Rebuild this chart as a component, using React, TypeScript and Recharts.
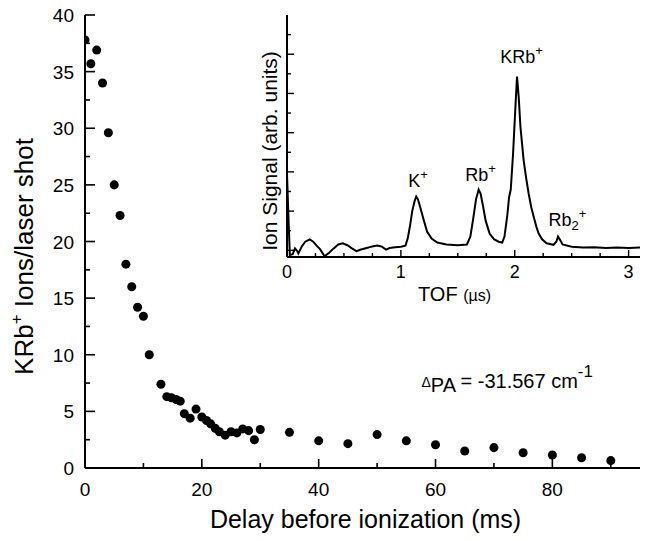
import React from 'react';
import { ScatterChart, Scatter, LineChart, Line, XAxis, YAxis, ZAxis, ReferenceDot } from 'recharts';

const FONT = '"Liberation Sans", Arial, Helvetica, sans-serif';

// Main plot: KRb+ ions per laser shot vs delay before ionization (ms)
const delayMs = [0, 1, 2, 3, 4, 5, 6, 7, 8, 9, 10, 11, 13, 14, 14.8, 15.6, 16.3, 17, 18, 19, 20, 20.8, 21.5, 22.3, 23, 24, 25, 26, 27, 28, 29, 30, 35, 40, 45, 50, 55, 60, 65, 70, 75, 80, 85, 90];
const ionsPerShot = [37.8, 35.7, 36.9, 34.0, 29.6, 25.0, 22.3, 18.0, 16.0, 14.2, 13.4, 10.0, 7.4, 6.3, 6.2, 6.05, 5.9, 4.8, 4.4, 5.2, 4.5, 4.2, 3.9, 3.5, 3.2, 2.9, 3.2, 3.1, 3.45, 3.3, 2.5, 3.4, 3.15, 2.4, 2.15, 2.95, 2.4, 2.05, 1.5, 1.8, 1.35, 1.15, 0.9, 0.65];

// Inset: TOF spectrum
const tofUs = [0, 0.012, 0.025, 0.05, 0.07, 0.09, 0.1, 0.13, 0.16, 0.2, 0.23, 0.26, 0.29, 0.33, 0.37, 0.41, 0.45, 0.49, 0.53, 0.57, 0.61, 0.65, 0.7, 0.75, 0.79, 0.83, 0.87, 0.9, 0.95, 1.0, 1.04, 1.06, 1.08, 1.1, 1.12, 1.135, 1.15, 1.17, 1.2, 1.23, 1.27, 1.32, 1.4, 1.5, 1.58, 1.61, 1.635, 1.66, 1.683, 1.7, 1.72, 1.745, 1.78, 1.82, 1.86, 1.89, 1.91, 1.935, 1.95, 1.965, 1.985, 2.005, 2.02, 2.035, 2.05, 2.078, 2.1, 2.122, 2.145, 2.166, 2.19, 2.21, 2.24, 2.28, 2.34, 2.365, 2.38, 2.395, 2.42, 2.5, 2.6, 2.7, 2.8, 2.9, 3.0, 3.1];
const ionSignal = [1.95, 0.9, -0.12, -0.1, 0.05, -0.02, -0.08, 0.1, 0.22, 0.28, 0.22, 0.12, 0.03, -0.15, -0.06, 0.05, 0.15, 0.18, 0.13, 0.05, -0.02, 0.02, 0.06, 0.1, 0.12, 0.1, 0.02, 0.06, 0.08, 0.09, 0.12, 0.3, 0.62, 1.0, 1.25, 1.37, 1.3, 1.1, 0.78, 0.48, 0.3, 0.2, 0.15, 0.13, 0.15, 0.35, 0.8, 1.3, 1.55, 1.45, 1.15, 0.75, 0.42, 0.28, 0.22, 0.2, 0.35, 0.9, 1.35, 1.55, 2.45, 3.6, 4.43, 3.9, 3.15, 2.3, 1.85, 1.45, 1.1, 0.86, 0.6, 0.43, 0.28, 0.18, 0.14, 0.22, 0.35, 0.28, 0.15, 0.09, 0.07, 0.08, 0.06, 0.07, 0.06, 0.07];

const mainXTicks = [0, 10, 20, 30, 40, 50, 60, 70, 80, 90];
const mainYTicks = [0, 2.5, 5, 7.5, 10, 12.5, 15, 17.5, 20, 22.5, 25, 27.5, 30, 32.5, 35, 37.5, 40];
const insetXTicks = [0, 0.25, 0.5, 0.75, 1, 1.25, 1.5, 1.75, 2, 2.25, 2.5, 2.75, 3];
const insetYTicks = [0, 0.5, 1, 1.5, 2, 2.5, 3, 3.5, 4, 4.5, 5, 5.5];

const mainData = delayMs.map((x, i) => ({ x, y: ionsPerShot[i] }));
const insetData = tofUs.map((t, i) => ({ t, v: ionSignal[i] }));

const AX = { stroke: '#000', strokeWidth: 2 };

const MainXTick = (p: any) => {
  const { x, y, payload } = p;
  const major = payload.value % 20 === 0;
  return (
    <g>
      <line x1={x} x2={x} y1={y} y2={y - (major ? 9 : 5)} stroke="#000" strokeWidth={1.6} />
      {major && (
        <text x={x} y={y + 28} textAnchor="middle" fontSize={19} fontFamily={FONT} fill="#000">{payload.value}</text>
      )}
    </g>
  );
};

const MainYTick = (p: any) => {
  const { x, y, payload } = p;
  const major = payload.value % 5 === 0;
  return (
    <g>
      <line x1={x} x2={x + (major ? 10 : 5)} y1={y} y2={y} stroke="#000" strokeWidth={1.6} />
      {major && (
        <text x={x - 11} y={y + 7} textAnchor="end" fontSize={19} fontFamily={FONT} fill="#000">{payload.value}</text>
      )}
    </g>
  );
};

const InsetXTick = (p: any) => {
  const { x, y, payload } = p;
  const major = Number.isInteger(payload.value);
  return (
    <g>
      <line x1={x} x2={x} y1={y} y2={y - (major ? 7 : 4)} stroke="#000" strokeWidth={1.4} />
      {major && (
        <text x={x} y={y + 21} textAnchor="middle" fontSize={18} fontFamily={FONT} fill="#000">{payload.value}</text>
      )}
    </g>
  );
};

const InsetYTick = (p: any) => {
  const { x, y, payload } = p;
  const major = Number.isInteger(payload.value);
  return <line x1={x} x2={x + (major ? 7 : 4)} y1={y} y2={y} stroke="#000" strokeWidth={1.4} />;
};

const MainXTitle = (p: any) => {
  const vb = p.viewBox || { x: 85, y: 468, width: 555, height: 70 };
  return (
    <text x={vb.x + vb.width / 2 + 3} y={vb.y + 60} textAnchor="middle" fontSize={25} fontFamily={FONT} fill="#000">
      Delay before ionization (ms)
    </text>
  );
};

const MainYTitle = (p: any) => {
  const vb = p.viewBox || { x: 5, y: 15, width: 80, height: 453 };
  const cx = vb.x + 28;
  const cy = vb.y + vb.height / 2 + 15;
  return (
    <text transform={`translate(${cx},${cy}) rotate(-90)`} textAnchor="middle" fontSize={26} fontFamily={FONT} fill="#000">
      KRb<tspan fontSize={17} dy={-11}>+</tspan><tspan dy={11}> Ions/laser shot</tspan>
    </text>
  );
};

const InsetXTitle = (p: any) => {
  const vb = p.viewBox || { x: 287, y: 257, width: 353, height: 50 };
  return (
    <text x={vb.x + 131} y={vb.y + 44} fontSize={20} fontFamily={FONT} fill="#000">
      TOF <tspan fontSize={16}>(µs)</tspan>
    </text>
  );
};

const InsetYTitle = (p: any) => {
  const vb = p.viewBox || { x: 257, y: 15, width: 30, height: 242 };
  const cx = vb.x + 20;
  const cy = vb.y + vb.height / 2 + 15;
  return (
    <text transform={`translate(${cx},${cy}) rotate(-90)`} textAnchor="middle" fontSize={21} fontFamily={FONT} fill="#000">
      Ion Signal (arb. units)
    </text>
  );
};

const IonLabel = (name: string, sub?: string) => (p: any) => (
  <text x={p.cx} y={p.cy} fontSize={18} fontFamily={FONT} fill="#000">
    {name}
    {sub ? (
      <>
        <tspan fontSize={13} dy={4}>{sub}</tspan>
        <tspan fontSize={13} dy={-12}>+</tspan>
      </>
    ) : (
      <tspan fontSize={13} dy={-8}>+</tspan>
    )}
  </text>
);

const DeltaLabel = (p: any) => (
  <text x={p.cx} y={p.cy} fontSize={20} fontFamily={FONT} fill="#000">
    <tspan fontSize={14} dy={-1}>Δ</tspan>
    <tspan fontSize={20} dy={5}>PA</tspan>
    <tspan dy={-4}> = -31.567 cm</tspan>
    <tspan fontSize={17} dy={-11}>-1</tspan>
  </text>
);

export default function App() {
  return (
    <div style={{ position: 'absolute', left: 0, top: 0, width: 646, height: 541, background: '#fff', fontFamily: FONT }}>
      <div style={{ position: 'absolute', left: 0, top: 0 }}>
        <ScatterChart width={646} height={541} margin={{ top: 15, right: 6, left: 5, bottom: 3 }}>
          <XAxis
            dataKey="x"
            type="number"
            domain={[0, 95]}
            ticks={mainXTicks}
            interval={0}
            allowDataOverflow
            height={70}
            tickSize={0}
            tickMargin={0}
            tick={MainXTick}
            tickLine={false}
            axisLine={AX}
            label={MainXTitle}
          />
          <XAxis xAxisId="top" orientation="top" type="number" domain={[0, 95]} height={0} tick={false} tickLine={false} axisLine={AX} />
          <YAxis
            dataKey="y"
            type="number"
            domain={[0, 40]}
            ticks={mainYTicks}
            interval={0}
            allowDataOverflow
            width={80}
            tickSize={0}
            tickMargin={0}
            tick={MainYTick}
            tickLine={false}
            axisLine={AX}
            label={MainYTitle}
          />
          <YAxis yAxisId="right" orientation="right" type="number" domain={[0, 40]} width={0} tick={false} tickLine={false} axisLine={AX} />
          <ZAxis range={[85, 85]} />
          <Scatter data={mainData} fill="#000" stroke="none" isAnimationActive={false} />
          <ReferenceDot x={57.6} y={7.06} r={0} shape={DeltaLabel} />
        </ScatterChart>
      </div>
      <div style={{ position: 'absolute', left: 0, top: 0 }}>
        <LineChart width={646} height={320} data={insetData} margin={{ top: 15, right: 6, left: 257, bottom: 13 }}>
          <XAxis
            dataKey="t"
            type="number"
            domain={[0, 3.1]}
            ticks={insetXTicks}
            interval={0}
            allowDataOverflow
            height={50}
            tickSize={0}
            tickMargin={0}
            tick={InsetXTick}
            tickLine={false}
            axisLine={AX}
            label={InsetXTitle}
          />
          <XAxis xAxisId="top" orientation="top" type="number" domain={[0, 3.1]} height={0} tick={false} tickLine={false} axisLine={AX} />
          <YAxis
            type="number"
            domain={[-0.17, 6]}
            ticks={insetYTicks}
            interval={0}
            allowDataOverflow
            width={30}
            tickSize={0}
            tickMargin={0}
            tick={InsetYTick}
            tickLine={false}
            axisLine={AX}
            label={InsetYTitle}
          />
          <YAxis yAxisId="right" orientation="right" type="number" domain={[-0.17, 6]} width={0} tick={false} tickLine={false} axisLine={AX} />
          <Line dataKey="v" type="linear" stroke="#000" strokeWidth={2} dot={false} isAnimationActive={false} />
          <ReferenceDot x={1.064} y={1.61} r={0} shape={IonLabel('K')} />
          <ReferenceDot x={1.566} y={1.76} r={0} shape={IonLabel('Rb')} />
          <ReferenceDot x={1.873} y={4.77} r={0} shape={IonLabel('KRb')} />
          <ReferenceDot x={2.296} y={0.62} r={0} shape={IonLabel('Rb', '2')} />
        </LineChart>
      </div>
    </div>
  );
}
